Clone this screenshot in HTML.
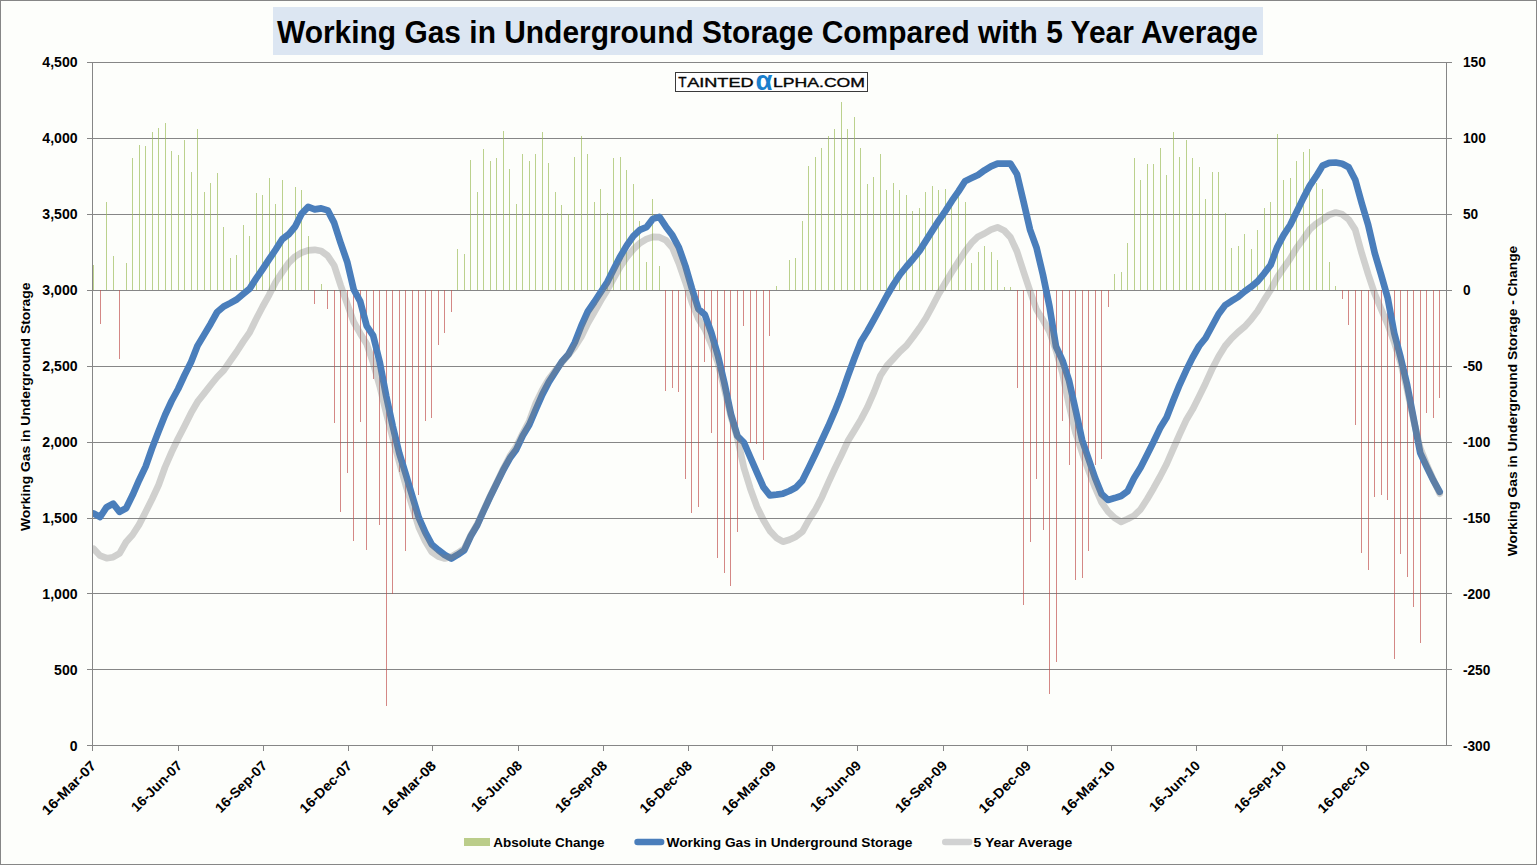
<!DOCTYPE html><html><head><meta charset="utf-8"><title>Working Gas in Underground Storage</title>
<style>html,body{margin:0;padding:0;background:#FDFEFB;}svg{display:block;}text{font-family:"Liberation Sans",sans-serif;font-weight:bold;fill:#000;}</style></head><body>
<svg width="1537" height="865" viewBox="0 0 1537 865">
<rect x="0" y="0" width="1537" height="865" fill="#FDFEFB"/>
<g shape-rendering="crispEdges">
<rect x="0" y="0" width="1537" height="1" fill="#868686"/><rect x="0" y="864" width="1537" height="1" fill="#868686"/><rect x="0" y="0" width="1" height="865" fill="#868686"/><rect x="1536" y="0" width="1" height="865" fill="#868686"/>
<rect x="273" y="7" width="990" height="48" fill="#DCE6F2"/>
<rect x="87" y="62" width="1365" height="1" fill="#868686"/>
<rect x="87" y="138" width="1365" height="1" fill="#868686"/>
<rect x="87" y="214" width="1365" height="1" fill="#868686"/>
<rect x="87" y="290" width="1365" height="1" fill="#868686"/>
<rect x="87" y="366" width="1365" height="1" fill="#868686"/>
<rect x="87" y="442" width="1365" height="1" fill="#868686"/>
<rect x="87" y="518" width="1365" height="1" fill="#868686"/>
<rect x="87" y="593" width="1365" height="1" fill="#868686"/>
<rect x="87" y="669" width="1365" height="1" fill="#868686"/>
<rect x="87" y="745" width="1365" height="1" fill="#868686"/>
<rect x="92" y="62" width="1" height="684" fill="#868686"/>
<rect x="1446" y="62" width="1" height="684" fill="#868686"/>
<rect x="92" y="745" width="1" height="6" fill="#868686"/>
<rect x="178" y="745" width="1" height="6" fill="#868686"/>
<rect x="263" y="745" width="1" height="6" fill="#868686"/>
<rect x="348" y="745" width="1" height="6" fill="#868686"/>
<rect x="432" y="745" width="1" height="6" fill="#868686"/>
<rect x="518" y="745" width="1" height="6" fill="#868686"/>
<rect x="603" y="745" width="1" height="6" fill="#868686"/>
<rect x="688" y="745" width="1" height="6" fill="#868686"/>
<rect x="772" y="745" width="1" height="6" fill="#868686"/>
<rect x="857" y="745" width="1" height="6" fill="#868686"/>
<rect x="943" y="745" width="1" height="6" fill="#868686"/>
<rect x="1027" y="745" width="1" height="6" fill="#868686"/>
<rect x="1111" y="745" width="1" height="6" fill="#868686"/>
<rect x="1196" y="745" width="1" height="6" fill="#868686"/>
<rect x="1282" y="745" width="1" height="6" fill="#868686"/>
<rect x="1366" y="745" width="1" height="6" fill="#868686"/>
<rect x="93" y="265" width="1" height="25" fill="#9BBB59" fill-opacity="0.68"/>
<rect x="100" y="290" width="1" height="34" fill="#C0504D" fill-opacity="0.68"/>
<rect x="106" y="202" width="1" height="88" fill="#9BBB59" fill-opacity="0.68"/>
<rect x="113" y="256" width="1" height="34" fill="#9BBB59" fill-opacity="0.68"/>
<rect x="119" y="290" width="1" height="69" fill="#C0504D" fill-opacity="0.68"/>
<rect x="126" y="263" width="1" height="27" fill="#9BBB59" fill-opacity="0.68"/>
<rect x="132" y="158" width="1" height="132" fill="#9BBB59" fill-opacity="0.68"/>
<rect x="139" y="145" width="1" height="145" fill="#9BBB59" fill-opacity="0.68"/>
<rect x="145" y="146" width="1" height="144" fill="#9BBB59" fill-opacity="0.68"/>
<rect x="152" y="132" width="1" height="158" fill="#9BBB59" fill-opacity="0.68"/>
<rect x="158" y="128" width="1" height="162" fill="#9BBB59" fill-opacity="0.68"/>
<rect x="165" y="123" width="1" height="167" fill="#9BBB59" fill-opacity="0.68"/>
<rect x="171" y="151" width="1" height="139" fill="#9BBB59" fill-opacity="0.68"/>
<rect x="178" y="155" width="1" height="135" fill="#9BBB59" fill-opacity="0.68"/>
<rect x="184" y="140" width="1" height="150" fill="#9BBB59" fill-opacity="0.68"/>
<rect x="191" y="172" width="1" height="118" fill="#9BBB59" fill-opacity="0.68"/>
<rect x="197" y="129" width="1" height="161" fill="#9BBB59" fill-opacity="0.68"/>
<rect x="204" y="192" width="1" height="98" fill="#9BBB59" fill-opacity="0.68"/>
<rect x="210" y="183" width="1" height="107" fill="#9BBB59" fill-opacity="0.68"/>
<rect x="217" y="173" width="1" height="117" fill="#9BBB59" fill-opacity="0.68"/>
<rect x="223" y="227" width="1" height="63" fill="#9BBB59" fill-opacity="0.68"/>
<rect x="230" y="258" width="1" height="32" fill="#9BBB59" fill-opacity="0.68"/>
<rect x="236" y="255" width="1" height="35" fill="#9BBB59" fill-opacity="0.68"/>
<rect x="243" y="225" width="1" height="65" fill="#9BBB59" fill-opacity="0.68"/>
<rect x="249" y="236" width="1" height="54" fill="#9BBB59" fill-opacity="0.68"/>
<rect x="256" y="193" width="1" height="97" fill="#9BBB59" fill-opacity="0.68"/>
<rect x="262" y="195" width="1" height="95" fill="#9BBB59" fill-opacity="0.68"/>
<rect x="269" y="178" width="1" height="112" fill="#9BBB59" fill-opacity="0.68"/>
<rect x="275" y="204" width="1" height="86" fill="#9BBB59" fill-opacity="0.68"/>
<rect x="282" y="180" width="1" height="110" fill="#9BBB59" fill-opacity="0.68"/>
<rect x="288" y="233" width="1" height="57" fill="#9BBB59" fill-opacity="0.68"/>
<rect x="295" y="187" width="1" height="103" fill="#9BBB59" fill-opacity="0.68"/>
<rect x="301" y="190" width="1" height="100" fill="#9BBB59" fill-opacity="0.68"/>
<rect x="308" y="236" width="1" height="54" fill="#9BBB59" fill-opacity="0.68"/>
<rect x="314" y="290" width="1" height="14" fill="#C0504D" fill-opacity="0.68"/>
<rect x="321" y="284" width="1" height="6" fill="#9BBB59" fill-opacity="0.68"/>
<rect x="327" y="290" width="1" height="19" fill="#C0504D" fill-opacity="0.68"/>
<rect x="334" y="290" width="1" height="133" fill="#C0504D" fill-opacity="0.68"/>
<rect x="340" y="290" width="1" height="222" fill="#C0504D" fill-opacity="0.68"/>
<rect x="347" y="290" width="1" height="183" fill="#C0504D" fill-opacity="0.68"/>
<rect x="353" y="290" width="1" height="251" fill="#C0504D" fill-opacity="0.68"/>
<rect x="360" y="290" width="1" height="132" fill="#C0504D" fill-opacity="0.68"/>
<rect x="366" y="290" width="1" height="260" fill="#C0504D" fill-opacity="0.68"/>
<rect x="373" y="290" width="1" height="89" fill="#C0504D" fill-opacity="0.68"/>
<rect x="379" y="290" width="1" height="235" fill="#C0504D" fill-opacity="0.68"/>
<rect x="386" y="290" width="1" height="416" fill="#C0504D" fill-opacity="0.68"/>
<rect x="392" y="290" width="1" height="304" fill="#C0504D" fill-opacity="0.68"/>
<rect x="399" y="290" width="1" height="182" fill="#C0504D" fill-opacity="0.68"/>
<rect x="405" y="290" width="1" height="261" fill="#C0504D" fill-opacity="0.68"/>
<rect x="412" y="290" width="1" height="229" fill="#C0504D" fill-opacity="0.68"/>
<rect x="418" y="290" width="1" height="205" fill="#C0504D" fill-opacity="0.68"/>
<rect x="425" y="290" width="1" height="131" fill="#C0504D" fill-opacity="0.68"/>
<rect x="431" y="290" width="1" height="128" fill="#C0504D" fill-opacity="0.68"/>
<rect x="438" y="290" width="1" height="55" fill="#C0504D" fill-opacity="0.68"/>
<rect x="444" y="290" width="1" height="43" fill="#C0504D" fill-opacity="0.68"/>
<rect x="451" y="290" width="1" height="22" fill="#C0504D" fill-opacity="0.68"/>
<rect x="457" y="249" width="1" height="41" fill="#9BBB59" fill-opacity="0.68"/>
<rect x="464" y="254" width="1" height="36" fill="#9BBB59" fill-opacity="0.68"/>
<rect x="470" y="160" width="1" height="130" fill="#9BBB59" fill-opacity="0.68"/>
<rect x="477" y="192" width="1" height="98" fill="#9BBB59" fill-opacity="0.68"/>
<rect x="483" y="149" width="1" height="141" fill="#9BBB59" fill-opacity="0.68"/>
<rect x="490" y="161" width="1" height="129" fill="#9BBB59" fill-opacity="0.68"/>
<rect x="496" y="158" width="1" height="132" fill="#9BBB59" fill-opacity="0.68"/>
<rect x="503" y="131" width="1" height="159" fill="#9BBB59" fill-opacity="0.68"/>
<rect x="509" y="169" width="1" height="121" fill="#9BBB59" fill-opacity="0.68"/>
<rect x="516" y="204" width="1" height="86" fill="#9BBB59" fill-opacity="0.68"/>
<rect x="522" y="154" width="1" height="136" fill="#9BBB59" fill-opacity="0.68"/>
<rect x="529" y="161" width="1" height="129" fill="#9BBB59" fill-opacity="0.68"/>
<rect x="535" y="154" width="1" height="136" fill="#9BBB59" fill-opacity="0.68"/>
<rect x="542" y="132" width="1" height="158" fill="#9BBB59" fill-opacity="0.68"/>
<rect x="548" y="163" width="1" height="127" fill="#9BBB59" fill-opacity="0.68"/>
<rect x="555" y="192" width="1" height="98" fill="#9BBB59" fill-opacity="0.68"/>
<rect x="561" y="205" width="1" height="85" fill="#9BBB59" fill-opacity="0.68"/>
<rect x="568" y="214" width="1" height="76" fill="#9BBB59" fill-opacity="0.68"/>
<rect x="574" y="157" width="1" height="133" fill="#9BBB59" fill-opacity="0.68"/>
<rect x="581" y="136" width="1" height="154" fill="#9BBB59" fill-opacity="0.68"/>
<rect x="587" y="154" width="1" height="136" fill="#9BBB59" fill-opacity="0.68"/>
<rect x="594" y="202" width="1" height="88" fill="#9BBB59" fill-opacity="0.68"/>
<rect x="600" y="189" width="1" height="101" fill="#9BBB59" fill-opacity="0.68"/>
<rect x="607" y="213" width="1" height="77" fill="#9BBB59" fill-opacity="0.68"/>
<rect x="613" y="158" width="1" height="132" fill="#9BBB59" fill-opacity="0.68"/>
<rect x="620" y="157" width="1" height="133" fill="#9BBB59" fill-opacity="0.68"/>
<rect x="626" y="170" width="1" height="120" fill="#9BBB59" fill-opacity="0.68"/>
<rect x="633" y="184" width="1" height="106" fill="#9BBB59" fill-opacity="0.68"/>
<rect x="639" y="221" width="1" height="69" fill="#9BBB59" fill-opacity="0.68"/>
<rect x="646" y="262" width="1" height="28" fill="#9BBB59" fill-opacity="0.68"/>
<rect x="652" y="199" width="1" height="91" fill="#9BBB59" fill-opacity="0.68"/>
<rect x="659" y="266" width="1" height="24" fill="#9BBB59" fill-opacity="0.68"/>
<rect x="665" y="290" width="1" height="101" fill="#C0504D" fill-opacity="0.68"/>
<rect x="672" y="290" width="1" height="98" fill="#C0504D" fill-opacity="0.68"/>
<rect x="678" y="290" width="1" height="102" fill="#C0504D" fill-opacity="0.68"/>
<rect x="685" y="290" width="1" height="189" fill="#C0504D" fill-opacity="0.68"/>
<rect x="691" y="290" width="1" height="223" fill="#C0504D" fill-opacity="0.68"/>
<rect x="698" y="290" width="1" height="217" fill="#C0504D" fill-opacity="0.68"/>
<rect x="704" y="290" width="1" height="72" fill="#C0504D" fill-opacity="0.68"/>
<rect x="711" y="290" width="1" height="143" fill="#C0504D" fill-opacity="0.68"/>
<rect x="717" y="290" width="1" height="268" fill="#C0504D" fill-opacity="0.68"/>
<rect x="724" y="290" width="1" height="283" fill="#C0504D" fill-opacity="0.68"/>
<rect x="730" y="290" width="1" height="296" fill="#C0504D" fill-opacity="0.68"/>
<rect x="737" y="290" width="1" height="242" fill="#C0504D" fill-opacity="0.68"/>
<rect x="743" y="290" width="1" height="36" fill="#C0504D" fill-opacity="0.68"/>
<rect x="750" y="290" width="1" height="153" fill="#C0504D" fill-opacity="0.68"/>
<rect x="756" y="290" width="1" height="154" fill="#C0504D" fill-opacity="0.68"/>
<rect x="763" y="290" width="1" height="170" fill="#C0504D" fill-opacity="0.68"/>
<rect x="769" y="290" width="1" height="46" fill="#C0504D" fill-opacity="0.68"/>
<rect x="776" y="286" width="1" height="4" fill="#9BBB59" fill-opacity="0.68"/>
<rect x="789" y="260" width="1" height="30" fill="#9BBB59" fill-opacity="0.68"/>
<rect x="795" y="258" width="1" height="32" fill="#9BBB59" fill-opacity="0.68"/>
<rect x="802" y="221" width="1" height="69" fill="#9BBB59" fill-opacity="0.68"/>
<rect x="808" y="166" width="1" height="124" fill="#9BBB59" fill-opacity="0.68"/>
<rect x="815" y="157" width="1" height="133" fill="#9BBB59" fill-opacity="0.68"/>
<rect x="821" y="148" width="1" height="142" fill="#9BBB59" fill-opacity="0.68"/>
<rect x="828" y="136" width="1" height="154" fill="#9BBB59" fill-opacity="0.68"/>
<rect x="834" y="129" width="1" height="161" fill="#9BBB59" fill-opacity="0.68"/>
<rect x="841" y="102" width="1" height="188" fill="#9BBB59" fill-opacity="0.68"/>
<rect x="847" y="129" width="1" height="161" fill="#9BBB59" fill-opacity="0.68"/>
<rect x="854" y="117" width="1" height="173" fill="#9BBB59" fill-opacity="0.68"/>
<rect x="860" y="148" width="1" height="142" fill="#9BBB59" fill-opacity="0.68"/>
<rect x="867" y="184" width="1" height="106" fill="#9BBB59" fill-opacity="0.68"/>
<rect x="873" y="177" width="1" height="113" fill="#9BBB59" fill-opacity="0.68"/>
<rect x="880" y="154" width="1" height="136" fill="#9BBB59" fill-opacity="0.68"/>
<rect x="886" y="190" width="1" height="100" fill="#9BBB59" fill-opacity="0.68"/>
<rect x="893" y="183" width="1" height="107" fill="#9BBB59" fill-opacity="0.68"/>
<rect x="899" y="190" width="1" height="100" fill="#9BBB59" fill-opacity="0.68"/>
<rect x="906" y="195" width="1" height="95" fill="#9BBB59" fill-opacity="0.68"/>
<rect x="912" y="211" width="1" height="79" fill="#9BBB59" fill-opacity="0.68"/>
<rect x="919" y="208" width="1" height="82" fill="#9BBB59" fill-opacity="0.68"/>
<rect x="925" y="192" width="1" height="98" fill="#9BBB59" fill-opacity="0.68"/>
<rect x="932" y="186" width="1" height="104" fill="#9BBB59" fill-opacity="0.68"/>
<rect x="938" y="190" width="1" height="100" fill="#9BBB59" fill-opacity="0.68"/>
<rect x="945" y="189" width="1" height="101" fill="#9BBB59" fill-opacity="0.68"/>
<rect x="951" y="204" width="1" height="86" fill="#9BBB59" fill-opacity="0.68"/>
<rect x="958" y="197" width="1" height="93" fill="#9BBB59" fill-opacity="0.68"/>
<rect x="965" y="202" width="1" height="88" fill="#9BBB59" fill-opacity="0.68"/>
<rect x="971" y="263" width="1" height="27" fill="#9BBB59" fill-opacity="0.68"/>
<rect x="978" y="252" width="1" height="38" fill="#9BBB59" fill-opacity="0.68"/>
<rect x="984" y="246" width="1" height="44" fill="#9BBB59" fill-opacity="0.68"/>
<rect x="991" y="252" width="1" height="38" fill="#9BBB59" fill-opacity="0.68"/>
<rect x="997" y="260" width="1" height="30" fill="#9BBB59" fill-opacity="0.68"/>
<rect x="1004" y="287" width="1" height="3" fill="#9BBB59" fill-opacity="0.68"/>
<rect x="1010" y="287" width="1" height="3" fill="#9BBB59" fill-opacity="0.68"/>
<rect x="1017" y="290" width="1" height="98" fill="#C0504D" fill-opacity="0.68"/>
<rect x="1023" y="290" width="1" height="315" fill="#C0504D" fill-opacity="0.68"/>
<rect x="1030" y="290" width="1" height="252" fill="#C0504D" fill-opacity="0.68"/>
<rect x="1036" y="290" width="1" height="189" fill="#C0504D" fill-opacity="0.68"/>
<rect x="1043" y="290" width="1" height="240" fill="#C0504D" fill-opacity="0.68"/>
<rect x="1049" y="290" width="1" height="404" fill="#C0504D" fill-opacity="0.68"/>
<rect x="1056" y="290" width="1" height="372" fill="#C0504D" fill-opacity="0.68"/>
<rect x="1062" y="290" width="1" height="131" fill="#C0504D" fill-opacity="0.68"/>
<rect x="1069" y="290" width="1" height="175" fill="#C0504D" fill-opacity="0.68"/>
<rect x="1075" y="290" width="1" height="290" fill="#C0504D" fill-opacity="0.68"/>
<rect x="1082" y="290" width="1" height="288" fill="#C0504D" fill-opacity="0.68"/>
<rect x="1088" y="290" width="1" height="261" fill="#C0504D" fill-opacity="0.68"/>
<rect x="1095" y="290" width="1" height="175" fill="#C0504D" fill-opacity="0.68"/>
<rect x="1101" y="290" width="1" height="169" fill="#C0504D" fill-opacity="0.68"/>
<rect x="1108" y="290" width="1" height="17" fill="#C0504D" fill-opacity="0.68"/>
<rect x="1114" y="274" width="1" height="16" fill="#9BBB59" fill-opacity="0.68"/>
<rect x="1121" y="272" width="1" height="18" fill="#9BBB59" fill-opacity="0.68"/>
<rect x="1127" y="243" width="1" height="47" fill="#9BBB59" fill-opacity="0.68"/>
<rect x="1134" y="158" width="1" height="132" fill="#9BBB59" fill-opacity="0.68"/>
<rect x="1140" y="180" width="1" height="110" fill="#9BBB59" fill-opacity="0.68"/>
<rect x="1147" y="164" width="1" height="126" fill="#9BBB59" fill-opacity="0.68"/>
<rect x="1153" y="164" width="1" height="126" fill="#9BBB59" fill-opacity="0.68"/>
<rect x="1160" y="148" width="1" height="142" fill="#9BBB59" fill-opacity="0.68"/>
<rect x="1166" y="175" width="1" height="115" fill="#9BBB59" fill-opacity="0.68"/>
<rect x="1173" y="132" width="1" height="158" fill="#9BBB59" fill-opacity="0.68"/>
<rect x="1179" y="157" width="1" height="133" fill="#9BBB59" fill-opacity="0.68"/>
<rect x="1186" y="140" width="1" height="150" fill="#9BBB59" fill-opacity="0.68"/>
<rect x="1192" y="158" width="1" height="132" fill="#9BBB59" fill-opacity="0.68"/>
<rect x="1199" y="167" width="1" height="123" fill="#9BBB59" fill-opacity="0.68"/>
<rect x="1205" y="199" width="1" height="91" fill="#9BBB59" fill-opacity="0.68"/>
<rect x="1212" y="172" width="1" height="118" fill="#9BBB59" fill-opacity="0.68"/>
<rect x="1218" y="172" width="1" height="118" fill="#9BBB59" fill-opacity="0.68"/>
<rect x="1225" y="213" width="1" height="77" fill="#9BBB59" fill-opacity="0.68"/>
<rect x="1231" y="248" width="1" height="42" fill="#9BBB59" fill-opacity="0.68"/>
<rect x="1238" y="246" width="1" height="44" fill="#9BBB59" fill-opacity="0.68"/>
<rect x="1244" y="234" width="1" height="56" fill="#9BBB59" fill-opacity="0.68"/>
<rect x="1251" y="249" width="1" height="41" fill="#9BBB59" fill-opacity="0.68"/>
<rect x="1257" y="230" width="1" height="60" fill="#9BBB59" fill-opacity="0.68"/>
<rect x="1264" y="208" width="1" height="82" fill="#9BBB59" fill-opacity="0.68"/>
<rect x="1270" y="202" width="1" height="88" fill="#9BBB59" fill-opacity="0.68"/>
<rect x="1277" y="134" width="1" height="156" fill="#9BBB59" fill-opacity="0.68"/>
<rect x="1283" y="180" width="1" height="110" fill="#9BBB59" fill-opacity="0.68"/>
<rect x="1290" y="178" width="1" height="112" fill="#9BBB59" fill-opacity="0.68"/>
<rect x="1296" y="161" width="1" height="129" fill="#9BBB59" fill-opacity="0.68"/>
<rect x="1303" y="152" width="1" height="138" fill="#9BBB59" fill-opacity="0.68"/>
<rect x="1309" y="149" width="1" height="141" fill="#9BBB59" fill-opacity="0.68"/>
<rect x="1316" y="183" width="1" height="107" fill="#9BBB59" fill-opacity="0.68"/>
<rect x="1322" y="189" width="1" height="101" fill="#9BBB59" fill-opacity="0.68"/>
<rect x="1329" y="262" width="1" height="28" fill="#9BBB59" fill-opacity="0.68"/>
<rect x="1335" y="286" width="1" height="4" fill="#9BBB59" fill-opacity="0.68"/>
<rect x="1342" y="290" width="1" height="9" fill="#C0504D" fill-opacity="0.68"/>
<rect x="1348" y="290" width="1" height="35" fill="#C0504D" fill-opacity="0.68"/>
<rect x="1355" y="290" width="1" height="135" fill="#C0504D" fill-opacity="0.68"/>
<rect x="1361" y="290" width="1" height="263" fill="#C0504D" fill-opacity="0.68"/>
<rect x="1368" y="290" width="1" height="280" fill="#C0504D" fill-opacity="0.68"/>
<rect x="1374" y="290" width="1" height="207" fill="#C0504D" fill-opacity="0.68"/>
<rect x="1381" y="290" width="1" height="205" fill="#C0504D" fill-opacity="0.68"/>
<rect x="1387" y="290" width="1" height="210" fill="#C0504D" fill-opacity="0.68"/>
<rect x="1394" y="290" width="1" height="369" fill="#C0504D" fill-opacity="0.68"/>
<rect x="1400" y="290" width="1" height="264" fill="#C0504D" fill-opacity="0.68"/>
<rect x="1407" y="290" width="1" height="287" fill="#C0504D" fill-opacity="0.68"/>
<rect x="1413" y="290" width="1" height="317" fill="#C0504D" fill-opacity="0.68"/>
<rect x="1420" y="290" width="1" height="353" fill="#C0504D" fill-opacity="0.68"/>
<rect x="1426" y="290" width="1" height="123" fill="#C0504D" fill-opacity="0.68"/>
<rect x="1433" y="290" width="1" height="128" fill="#C0504D" fill-opacity="0.68"/>
<rect x="1439" y="290" width="1" height="108" fill="#C0504D" fill-opacity="0.68"/>
</g>
<clipPath id="pc"><rect x="93" y="62" width="1353" height="684"/></clipPath><g clip-path="url(#pc)">
<polyline points="93.6,513.5 100.1,517.0 106.6,507.2 113.1,503.7 119.6,511.8 126.1,508.3 132.6,495.1 139.1,480.2 145.6,466.6 152.1,448.1 158.6,431.2 165.1,415.0 171.6,401.0 178.1,389.0 184.6,375.0 191.1,361.9 197.6,345.6 204.2,334.6 210.7,323.7 217.2,312.0 223.7,306.5 230.2,303.1 236.7,299.5 243.2,294.0 249.7,288.6 256.2,278.4 262.7,269.0 269.2,259.2 275.7,249.5 282.2,239.2 288.7,234.3 295.2,226.5 301.7,213.6 308.2,206.9 314.7,209.4 321.2,208.4 327.7,210.4 334.2,222.9 340.7,243.2 347.2,261.8 353.7,289.5 360.2,301.3 366.7,326.0 373.2,335.7 379.7,362.0 386.2,396.0 392.7,426.0 399.2,453.0 405.7,473.9 412.2,495.7 418.8,517.6 425.3,532.4 431.8,544.5 438.3,550.0 444.8,555.0 451.3,558.5 457.8,554.7 464.3,550.2 470.8,536.0 477.3,525.0 483.8,510.5 490.3,496.5 496.8,483.2 503.3,470.0 509.8,458.3 516.3,449.4 522.8,435.6 529.3,424.7 535.8,409.5 542.3,394.6 548.8,382.1 555.3,372.0 561.8,361.8 568.3,354.6 574.8,342.5 581.3,325.9 587.8,311.5 594.3,302.0 600.8,292.0 607.3,282.1 613.8,268.9 620.3,256.4 626.8,245.4 633.3,236.1 639.9,229.8 646.4,227.2 652.9,218.9 659.4,216.9 665.9,226.7 672.4,235.3 678.9,247.5 685.4,266.0 691.9,288.5 698.4,309.0 704.9,314.8 711.4,333.0 717.9,355.5 724.4,383.0 730.9,414.0 737.4,436.0 743.9,442.5 750.4,457.5 756.9,472.3 763.4,487.1 769.9,495.3 776.4,494.6 782.9,493.7 789.4,491.0 795.9,487.5 802.4,480.6 808.9,467.6 815.4,454.0 821.9,440.0 828.4,426.0 834.9,410.9 841.4,394.5 847.9,375.8 854.5,358.0 861.0,341.5 867.5,331.0 874.0,319.3 880.5,307.5 887.0,295.5 893.5,284.5 900.0,274.5 906.5,266.5 913.0,259.0 919.5,251.0 926.0,240.6 932.5,230.4 939.0,220.3 945.5,210.9 952.0,200.7 958.5,191.4 965.0,181.2 971.5,178.1 978.0,175.0 984.5,170.3 991.0,166.4 997.5,163.7 1004.0,163.6 1010.5,163.7 1017.0,174.2 1023.5,201.5 1030.0,229.6 1036.5,247.6 1043.0,275.0 1049.5,306.5 1056.0,346.5 1062.5,360.6 1069.0,380.5 1075.6,410.0 1082.1,440.0 1088.6,459.0 1095.1,478.0 1101.6,494.0 1108.1,499.9 1114.6,498.1 1121.1,496.0 1127.6,491.3 1134.1,478.1 1140.6,467.5 1147.1,454.7 1153.6,441.8 1160.1,428.1 1166.6,417.5 1173.1,400.8 1179.6,384.8 1186.1,370.6 1192.6,357.5 1199.1,346.0 1205.6,338.0 1212.1,326.0 1218.6,314.0 1225.1,305.3 1231.6,300.9 1238.1,297.0 1244.6,291.5 1251.1,286.8 1257.6,281.4 1264.1,273.6 1270.6,265.0 1277.1,247.3 1283.6,235.1 1290.2,225.0 1296.7,211.7 1303.2,198.4 1309.7,185.9 1316.2,176.2 1322.7,165.6 1329.2,162.8 1335.7,162.5 1342.2,163.7 1348.7,167.2 1355.2,179.7 1361.7,203.1 1368.2,225.0 1374.7,253.0 1381.2,275.0 1387.7,297.8 1394.2,333.0 1400.7,357.7 1407.2,385.3 1413.7,419.0 1420.2,452.8 1426.7,466.8 1433.2,480.1 1439.7,491.8" fill="none" stroke="#4A7EBB" stroke-width="6.7" stroke-linejoin="round" stroke-linecap="round"/>
<polyline points="93.6,548.9 100.1,555.7 106.6,558.2 113.1,557.2 119.6,553.4 126.1,542.0 132.6,534.8 139.1,524.6 145.6,512.0 152.1,499.0 158.6,485.0 165.1,467.0 171.6,452.1 178.1,438.5 184.6,426.0 191.1,412.9 197.6,401.7 204.2,393.4 210.7,385.0 217.2,377.0 223.7,370.3 230.2,361.0 236.7,351.8 243.2,341.6 249.7,332.3 256.2,319.0 262.7,306.5 269.2,294.8 275.7,282.0 282.2,272.2 288.7,262.8 295.2,256.5 301.7,252.6 308.2,250.3 314.7,249.8 321.2,251.0 327.7,255.8 334.2,265.5 340.7,285.5 347.2,303.8 353.7,322.0 360.2,333.4 366.7,344.0 373.2,363.0 379.7,386.0 386.2,413.0 392.7,438.0 399.2,462.0 405.7,484.9 412.2,506.0 418.8,527.3 425.3,541.3 431.8,552.0 438.3,556.5 444.8,558.5 451.3,556.7 457.8,553.0 464.3,548.6 470.8,535.1 477.3,524.0 483.8,509.8 490.3,495.7 496.8,482.5 503.3,468.7 509.8,456.2 516.3,446.5 522.8,433.3 529.3,421.0 535.8,403.2 542.3,389.9 548.8,379.0 555.3,370.4 561.8,362.6 568.3,354.8 574.8,347.0 581.3,336.8 587.8,323.2 594.3,312.0 600.8,300.5 607.3,289.9 613.8,278.2 620.3,266.5 626.8,257.1 633.3,249.3 639.9,243.1 646.4,239.2 652.9,236.8 659.4,237.2 665.9,240.3 672.4,247.8 678.9,263.4 685.4,282.1 691.9,302.4 698.4,318.8 704.9,329.3 711.4,344.5 717.9,363.0 724.4,389.0 730.9,416.5 737.4,438.0 743.9,467.7 750.4,488.8 756.9,506.7 763.4,520.0 769.9,530.9 776.4,537.8 782.9,541.7 789.4,539.7 795.9,536.7 802.4,531.6 808.9,519.9 815.4,509.7 821.9,497.2 828.4,482.5 834.9,468.4 841.4,455.1 847.9,441.1 854.5,430.3 861.0,419.4 867.5,407.0 874.0,392.1 880.5,375.5 887.0,365.6 893.5,358.6 900.0,351.5 906.5,345.5 913.0,337.0 919.5,328.0 926.0,318.0 932.5,306.0 939.0,293.5 945.5,282.5 952.0,271.8 958.5,261.6 965.0,251.5 971.5,242.9 978.0,236.7 984.5,233.5 991.0,229.6 997.5,227.3 1004.0,230.4 1010.5,237.4 1017.0,251.5 1023.5,271.5 1030.0,291.0 1036.5,309.5 1043.0,320.0 1049.5,331.7 1056.0,350.4 1062.5,373.1 1069.0,405.0 1075.6,433.0 1082.1,452.5 1088.6,470.5 1095.1,487.5 1101.6,502.3 1108.1,511.6 1114.6,517.9 1121.1,521.8 1127.6,519.0 1134.1,515.6 1140.6,509.3 1147.1,499.2 1153.6,488.2 1160.1,476.5 1166.6,464.0 1173.1,449.2 1179.6,434.4 1186.1,420.3 1192.6,409.4 1199.1,396.5 1205.6,383.2 1212.1,369.0 1218.6,356.5 1225.1,346.0 1231.6,338.4 1238.1,332.1 1244.6,326.7 1251.1,319.6 1257.6,311.0 1264.1,300.1 1270.6,290.0 1277.1,277.5 1283.6,268.0 1290.2,258.6 1296.7,247.7 1303.2,239.0 1309.7,229.6 1316.2,223.7 1322.7,219.5 1329.2,214.8 1335.7,212.5 1342.2,214.3 1348.7,219.5 1355.2,229.6 1361.7,253.1 1368.2,274.3 1374.7,293.7 1381.2,309.3 1387.7,324.4 1394.2,342.0 1400.7,363.0 1407.2,390.0 1413.7,420.5 1420.2,448.0 1426.7,464.5 1433.2,479.3 1439.7,493.7" fill="none" stroke="rgba(128,128,128,0.36)" stroke-width="6.7" stroke-linejoin="round" stroke-linecap="round"/></g>
<text x="277" y="43.3" font-size="31.1" textLength="981" lengthAdjust="spacingAndGlyphs" >Working Gas in Underground Storage Compared with 5 Year Average</text>
<text x="77.6" y="67.0" font-size="13.8" text-anchor="end" textLength="35.3" lengthAdjust="spacingAndGlyphs" >4,500</text>
<text x="1462.9" y="67.0" font-size="13.8" textLength="22.9" lengthAdjust="spacingAndGlyphs" >150</text>
<text x="77.6" y="142.9" font-size="13.8" text-anchor="end" textLength="35.3" lengthAdjust="spacingAndGlyphs" >4,000</text>
<text x="1462.9" y="142.9" font-size="13.8" textLength="22.9" lengthAdjust="spacingAndGlyphs" >100</text>
<text x="77.6" y="218.8" font-size="13.8" text-anchor="end" textLength="35.3" lengthAdjust="spacingAndGlyphs" >3,500</text>
<text x="1462.9" y="218.8" font-size="13.8" textLength="15.2" lengthAdjust="spacingAndGlyphs" >50</text>
<text x="77.6" y="294.8" font-size="13.8" text-anchor="end" textLength="35.3" lengthAdjust="spacingAndGlyphs" >3,000</text>
<text x="1462.9" y="294.8" font-size="13.8" textLength="7.6" lengthAdjust="spacingAndGlyphs" >0</text>
<text x="77.6" y="370.7" font-size="13.8" text-anchor="end" textLength="35.3" lengthAdjust="spacingAndGlyphs" >2,500</text>
<text x="1462.9" y="370.7" font-size="13.8" textLength="19.8" lengthAdjust="spacingAndGlyphs" >-50</text>
<text x="77.6" y="446.7" font-size="13.8" text-anchor="end" textLength="35.3" lengthAdjust="spacingAndGlyphs" >2,000</text>
<text x="1462.9" y="446.7" font-size="13.8" textLength="27.4" lengthAdjust="spacingAndGlyphs" >-100</text>
<text x="77.6" y="522.7" font-size="13.8" text-anchor="end" textLength="35.3" lengthAdjust="spacingAndGlyphs" >1,500</text>
<text x="1462.9" y="522.7" font-size="13.8" textLength="27.4" lengthAdjust="spacingAndGlyphs" >-150</text>
<text x="77.6" y="599.1" font-size="13.8" text-anchor="end" textLength="35.3" lengthAdjust="spacingAndGlyphs" >1,000</text>
<text x="1462.9" y="599.1" font-size="13.8" textLength="27.4" lengthAdjust="spacingAndGlyphs" >-200</text>
<text x="77.6" y="675.0" font-size="13.8" text-anchor="end" textLength="23.5" lengthAdjust="spacingAndGlyphs" >500</text>
<text x="1462.9" y="675.0" font-size="13.8" textLength="27.4" lengthAdjust="spacingAndGlyphs" >-250</text>
<text x="77.6" y="751.0" font-size="13.8" text-anchor="end" textLength="7.8" lengthAdjust="spacingAndGlyphs" >0</text>
<text x="1462.9" y="751.0" font-size="13.8" textLength="27.4" lengthAdjust="spacingAndGlyphs" >-300</text>
<text transform="translate(97.0,766.5) rotate(-45)" font-size="13.8" text-anchor="end" textLength="70" lengthAdjust="spacingAndGlyphs">16-Mar-07</text>
<text transform="translate(183.0,766.5) rotate(-45)" font-size="13.8" text-anchor="end" textLength="65.3" lengthAdjust="spacingAndGlyphs">16-Jun-07</text>
<text transform="translate(268.0,766.5) rotate(-45)" font-size="13.8" text-anchor="end" textLength="66.9" lengthAdjust="spacingAndGlyphs">16-Sep-07</text>
<text transform="translate(353.0,766.5) rotate(-45)" font-size="13.8" text-anchor="end" textLength="67.5" lengthAdjust="spacingAndGlyphs">16-Dec-07</text>
<text transform="translate(437.0,766.5) rotate(-45)" font-size="13.8" text-anchor="end" textLength="70" lengthAdjust="spacingAndGlyphs">16-Mar-08</text>
<text transform="translate(523.0,766.5) rotate(-45)" font-size="13.8" text-anchor="end" textLength="65.3" lengthAdjust="spacingAndGlyphs">16-Jun-08</text>
<text transform="translate(608.0,766.5) rotate(-45)" font-size="13.8" text-anchor="end" textLength="66.9" lengthAdjust="spacingAndGlyphs">16-Sep-08</text>
<text transform="translate(693.0,766.5) rotate(-45)" font-size="13.8" text-anchor="end" textLength="67.5" lengthAdjust="spacingAndGlyphs">16-Dec-08</text>
<text transform="translate(777.0,766.5) rotate(-45)" font-size="13.8" text-anchor="end" textLength="70" lengthAdjust="spacingAndGlyphs">16-Mar-09</text>
<text transform="translate(862.0,766.5) rotate(-45)" font-size="13.8" text-anchor="end" textLength="65.3" lengthAdjust="spacingAndGlyphs">16-Jun-09</text>
<text transform="translate(948.0,766.5) rotate(-45)" font-size="13.8" text-anchor="end" textLength="66.9" lengthAdjust="spacingAndGlyphs">16-Sep-09</text>
<text transform="translate(1032.0,766.5) rotate(-45)" font-size="13.8" text-anchor="end" textLength="67.5" lengthAdjust="spacingAndGlyphs">16-Dec-09</text>
<text transform="translate(1116.0,766.5) rotate(-45)" font-size="13.8" text-anchor="end" textLength="70" lengthAdjust="spacingAndGlyphs">16-Mar-10</text>
<text transform="translate(1201.0,766.5) rotate(-45)" font-size="13.8" text-anchor="end" textLength="65.3" lengthAdjust="spacingAndGlyphs">16-Jun-10</text>
<text transform="translate(1287.0,766.5) rotate(-45)" font-size="13.8" text-anchor="end" textLength="66.9" lengthAdjust="spacingAndGlyphs">16-Sep-10</text>
<text transform="translate(1371.0,766.5) rotate(-45)" font-size="13.8" text-anchor="end" textLength="67.5" lengthAdjust="spacingAndGlyphs">16-Dec-10</text>
<text transform="translate(29.5,531) rotate(-90)" font-size="13.4" textLength="248.5" lengthAdjust="spacingAndGlyphs">Working Gas in Underground Storage</text>
<text transform="translate(1516.8,556.3) rotate(-90)" font-size="13.4" textLength="310.6" lengthAdjust="spacingAndGlyphs">Working Gas in Underground Storage - Change</text>
<rect x="464" y="838" width="26" height="8" fill="#BBCD8A"/>
<text x="493.3" y="846.8" font-size="13.6" textLength="111.2" lengthAdjust="spacingAndGlyphs" >Absolute Change</text>
<line x1="637.6" y1="842" x2="661.1" y2="842" stroke="#4A7EBB" stroke-width="6.6" stroke-linecap="round"/>
<text x="666.5" y="846.8" font-size="13.6" textLength="245.9" lengthAdjust="spacingAndGlyphs" >Working Gas in Underground Storage</text>
<line x1="945.3" y1="842" x2="969.2" y2="842" stroke="#D1D2D2" stroke-width="6.6" stroke-linecap="round"/>
<text x="973.6" y="846.8" font-size="13.6" textLength="98.8" lengthAdjust="spacingAndGlyphs" >5 Year Average</text>
<rect x="675.5" y="72.5" width="192" height="19" fill="#FFFFFF" stroke="#3A3A3A" stroke-width="1"/>
<text x="678.3" y="87.2" font-size="14.3" textLength="8.3" lengthAdjust="spacingAndGlyphs" style="font-weight:normal;stroke:#111;stroke-width:0.4" fill="#111">T</text>
<text x="687.2" y="87.2" font-size="12.2" textLength="66.4" lengthAdjust="spacingAndGlyphs" style="font-weight:normal;stroke:#111;stroke-width:0.35">AINTED</text>
<text x="755.4" y="89.5" font-size="27" textLength="17" lengthAdjust="spacingAndGlyphs" style="fill:#1B7FCC">α</text>
<text x="773" y="87.2" font-size="12.2" textLength="92" lengthAdjust="spacingAndGlyphs" style="font-weight:normal;stroke:#111;stroke-width:0.35">LPHA.COM</text>
</svg></body></html>
